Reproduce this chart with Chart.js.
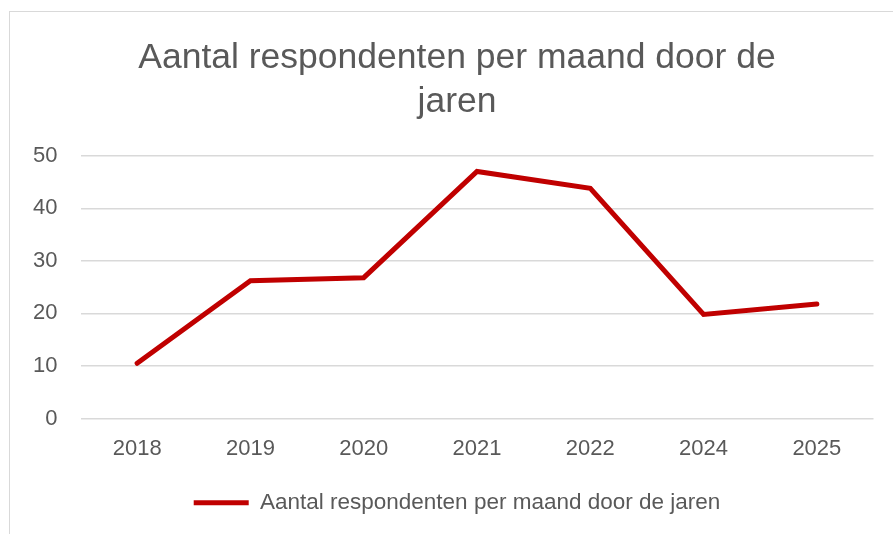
<!DOCTYPE html>
<html>
<head>
<meta charset="utf-8">
<script src="https://cdn.jsdelivr.net/npm/chart.js@4"></script>
<style>
  html, body { margin: 0; padding: 0; background: #fff; overflow: hidden; }
  #frame { position: absolute; left: 9px; top: 11px; width: 920px; height: 560px; border: 1px solid #d9d9d9; }
  #wrap { position: absolute; left: 0; top: 0; width: 914px; height: 534px; }
</style>
</head>
<body>
<div id="frame"></div>
<div id="wrap"><canvas id="line-chart"></canvas></div>
<script>
const years = ["2018", "2019", "2020", "2021", "2022", "2024", "2025"];
const respondents = [10.5, 26.2, 26.8, 47.0, 43.8, 19.8, 21.8];
const seriesName = "Aantal respondenten per maand door de jaren";
const titleLines = ["Aantal respondenten per maand door de", "jaren"];

const font = "'Liberation Sans', Arial, sans-serif";
const grey = "#595959";

// centre title and legend on the outer frame instead of the padded area
const centreBlocks = {
  id: 'centreBlocks',
  afterLayout(chart) {
    if (chart.titleBlock) { chart.titleBlock.left = 40.5; chart.titleBlock.width = chart.titleBlock.right - 40.5; }
    if (chart.legend) { chart.legend.left = 40.5; chart.legend.width = chart.legend.right - 40.5; }
  }
};

new Chart(document.getElementById("line-chart"), {
  type: 'line',
  data: {
    labels: years,
    datasets: [{
      label: seriesName,
      data: respondents,
      borderColor: "#c00000",
      backgroundColor: "#c00000",
      borderWidth: 5,
      borderCapStyle: 'round',
      borderJoinStyle: 'miter',
      pointRadius: 0,
      tension: 0,
      fill: false
    }]
  },
  options: {
    responsive: true,
    maintainAspectRatio: false,
    animation: false,
    layout: { padding: { left: 0, right: 40.5, top: 12, bottom: 10 } },
    plugins: {
      title: {
        display: true,
        text: titleLines,
        color: grey,
        font: { family: font, size: 35.5, weight: 'normal', lineHeight: 1.25 },
        padding: { top: 24, bottom: 31 }
      },
      legend: {
        position: 'bottom',
        labels: {
          color: grey,
          font: { family: font, size: 22.5 },
          usePointStyle: true,
          pointStyle: 'line',
          pointStyleWidth: 55,
          boxHeight: 22,
          padding: 10
        }
      },
      tooltip: { enabled: false }
    },
    scales: {
      x: {
        offset: true,
        grid: { display: false, drawTicks: false },
        border: { display: false },
        ticks: { color: grey, font: { family: font, size: 22 }, padding: 17, maxRotation: 0 },
        afterFit: (s) => { s.height = 63; }
      },
      y: {
        min: 0,
        max: 50,
        ticks: { stepSize: 10, color: grey, font: { family: font, size: 22 }, padding: 23 },
        grid: { color: "#d9d9d9", lineWidth: 1.5, drawTicks: false },
        border: { display: false },
        afterFit: (s) => { s.width = 80.5; }
      }
    }
  },
  plugins: [centreBlocks]
});
</script>
</body>
</html>
